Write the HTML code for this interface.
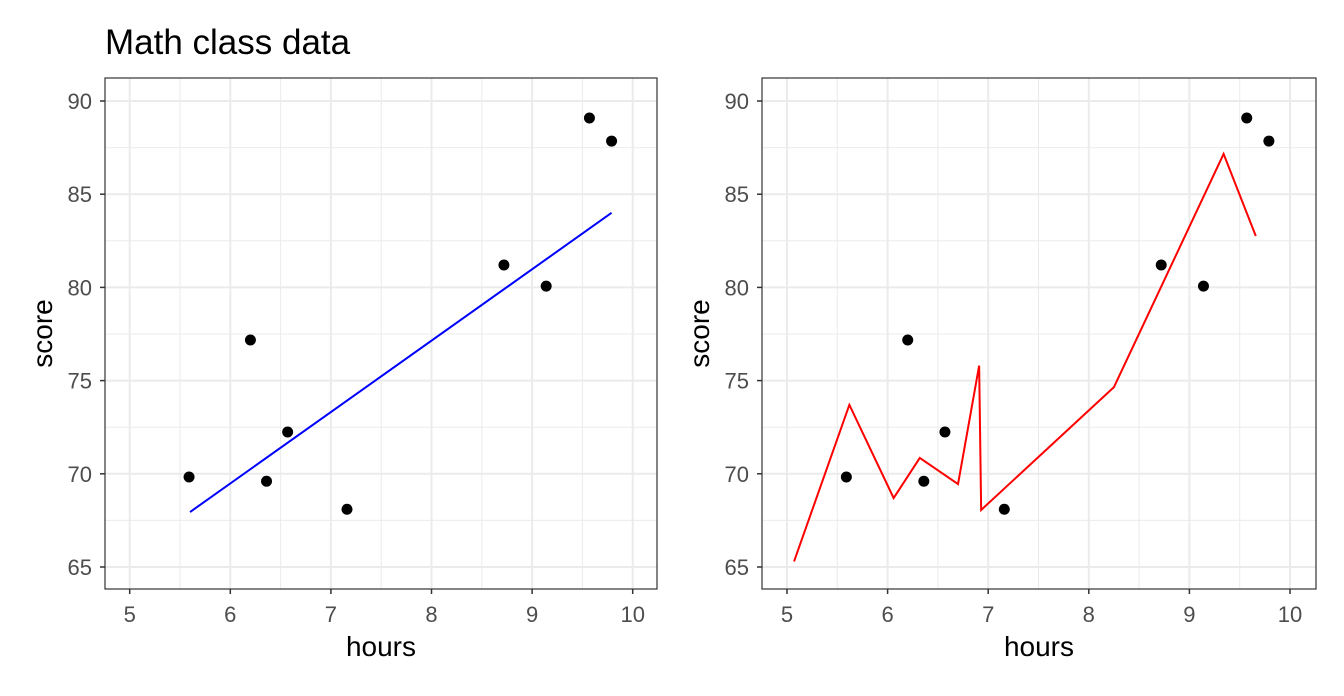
<!DOCTYPE html>
<html><head><meta charset="utf-8"><style>
body{margin:0;background:#fff;}
svg text{font-family:"Liberation Sans",sans-serif;}
</style></head><body>
<svg id="c" width="1344" height="691"></svg>
<script>
const hours=[5.59,6.20,6.36,6.57,7.16,8.72,9.14,9.57,9.79];
const scores=[69.83,77.18,69.6,72.24,68.1,81.2,80.07,89.09,87.85];
const fitX=[5.60,9.79];
const fitY=[67.95,84.0];
const lineX=[5.07,5.62,6.06,6.32,6.70,6.91,6.93,8.25,9.34,9.66];
const lineY=[65.3,73.7,68.7,70.85,69.45,75.8,68.06,74.65,87.16,82.76];
const xTicks=[5,6,7,8,9,10];
const yTicks=[65,70,75,80,85,90];
const NS="http://www.w3.org/2000/svg";
const svg=document.getElementById('c');
function mk(tag,attrs,parent){const e=document.createElementNS(NS,tag);for(const k in attrs)e.setAttribute(k,attrs[k]);(parent||svg).appendChild(e);return e;}
function panel(left,right,x5,name,lx,ly,col){
  const top=78,bottom=589;
  const sx=v=>x5+(v-5)*100.6;
  const sy=v=>101+(90-v)*18.64;
  const g=mk('g',{});
  
  
  mk('rect',{x:left,y:top,width:right-left,height:bottom-top,fill:'#fff'},g);
  for(let v=4.5;v<=10.5;v+=1){const x=sx(v);if(x>left&&x<right)mk('line',{x1:x,x2:x,y1:top,y2:bottom,stroke:'#ebebeb','stroke-width':1},g);}
  for(let v=62.5;v<=92.5;v+=5){const y=sy(v);if(y>top&&y<bottom)mk('line',{x1:left,x2:right,y1:y,y2:y,stroke:'#ebebeb','stroke-width':1},g);}
  xTicks.forEach(v=>{const x=sx(v);mk('line',{x1:x,x2:x,y1:top,y2:bottom,stroke:'#ebebeb','stroke-width':2},g);
    mk('line',{x1:x,x2:x,y1:bottom,y2:bottom+5,stroke:'#333','stroke-width':1.5},g);
    const t=mk('text',{x:x,y:622,'text-anchor':'middle','font-size':22,fill:'#4d4d4d'},g);t.textContent=v;
    });
  yTicks.forEach(v=>{const y=sy(v);mk('line',{x1:left,x2:right,y1:y,y2:y,stroke:'#ebebeb','stroke-width':2},g);
    mk('line',{x1:left-5,x2:left,y1:y,y2:y,stroke:'#333','stroke-width':1.5},g);
    const t=mk('text',{x:left-13,y:y+8,'text-anchor':'end','font-size':22,fill:'#4d4d4d'},g);t.textContent=v;
    });
  const pts=lx.map((v,i)=>sx(v)+','+sy(ly[i])).join(' ');
  const pl=mk('polyline',{points:pts,fill:'none',stroke:col,'stroke-width':2},g);
  
  
  hours.forEach((h,i)=>{const c=mk('circle',{cx:sx(h),cy:sy(scores[i]),r:5.5,fill:'#000'},g);
    });
  mk('rect',{x:left,y:top,width:right-left,height:bottom-top,fill:'none',stroke:'#333','stroke-width':1.2},g);
  const xt=mk('text',{x:(left+right)/2,y:656,'text-anchor':'middle','font-size':28,fill:'#000'},g);xt.textContent='hours';
  
  const cy=(top+bottom)/2,cx=left-53;
  const yt=mk('text',{x:cx,y:cy,'text-anchor':'middle','font-size':28,fill:'#000',transform:`rotate(-90 ${cx} ${cy})`},g);yt.textContent='score';
  
}
panel(105,657,129.7,'left-panel',fitX,fitY,'blue');
panel(762,1316,787,'right-panel',lineX,lineY,'red');
const title=mk('text',{x:105,y:54,'font-size':35,fill:'#000'});title.textContent='Math class data';


</script>
</body></html>
